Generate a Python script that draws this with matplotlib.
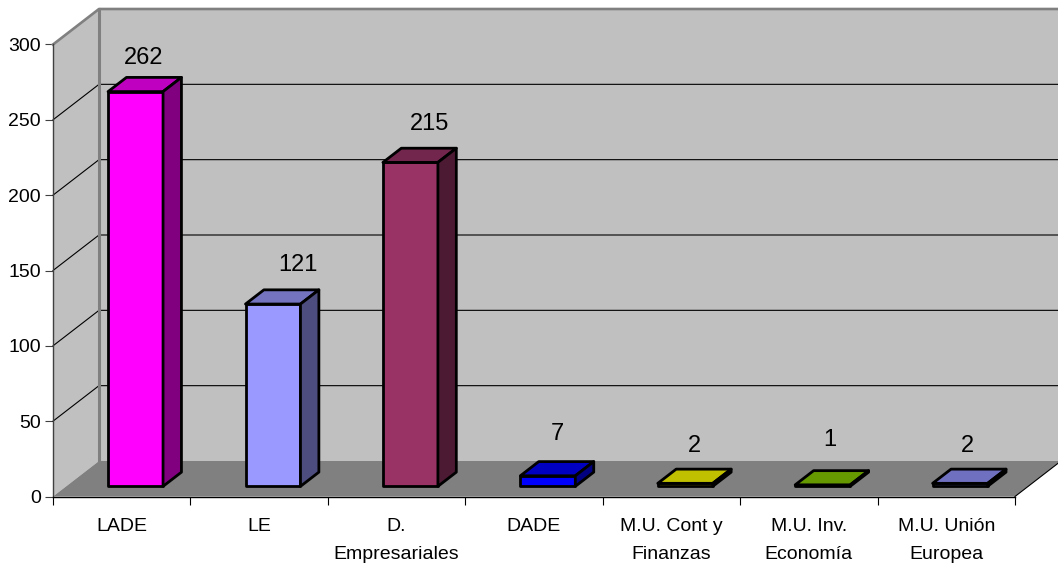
import matplotlib
matplotlib.use("Agg")
import matplotlib.pyplot as plt
from matplotlib.patches import Polygon

categories = ["LADE", "LE", "D.\nEmpresariales", "DADE", "M.U. Cont y\nFinanzas", "M.U. Inv.\nEconomía", "M.U. Unión\nEuropea"]
values = [262, 121, 215, 7, 2, 1, 2]
y_ticks = [0, 50, 100, 150, 200, 250, 300]

front_colors = ["#FF00FF", "#9999FF", "#993366", "#0000FF", "#CCCC00", "#669900", "#6666CC"]
top_colors = ["#C000C0", "#7373C0", "#73264D", "#0000C0", "#C0C000", "#669900", "#7070C0"]
side_colors = ["#800080", "#4D4D80", "#4D1A33", "#000080", "#666600", "#334D00", "#333366"]

# label nudges from the top of each bar, in pixels
label_dx = [8.5, 25, 19, 10, 9, 7, 7]
label_dy = [21, 27, 26, 30, 25, 33, 25]

plt.rcParams['font.family'] = ['Liberation Sans']

W, H = 1058, 567
X0, X1, Y0, Y1 = 53, 1015, 496.5, 44.5

fig = plt.figure(figsize=(W / 100, H / 100), dpi=100)
ax = fig.add_axes([X0 / W, (H - Y0) / H, (X1 - X0) / W, (Y0 - Y1) / H])
ax.set_xlim(0, 7)
ax.set_ylim(0, 300)

px_x = 7 / (X1 - X0)
px_y = 300 / (Y0 - Y1)
DX = 46 * px_x
DY = 35.5 * px_y
TOP = 300


def proj(x, v, d):
    return (x + d * DX, v + d * DY)


def poly(points, fc, z, ec="none", lw=0):
    ax.add_patch(Polygon(points, closed=True, facecolor=fc, edgecolor=ec, linewidth=lw,
                         joinstyle="round", clip_on=False, zorder=z))


# walls and floor
poly([proj(0, 0, 1), proj(7, 0, 1), proj(7, TOP, 1), proj(0, TOP, 1)], "#C0C0C0", 1)
poly([proj(0, 0, 0), proj(0, 0, 1), proj(0, TOP, 1), proj(0, TOP, 0)], "#C0C0C0", 1)
poly([proj(0, 0, 0), proj(7, 0, 0), proj(7, 0, 1), proj(0, 0, 1)], "#808080", 1)

for t in y_ticks[1:-1]:
    a, b, c = proj(0, t, 0), proj(0, t, 1), proj(7, t, 1)
    ax.plot([a[0], b[0], c[0]], [a[1], b[1], c[1]], color="black", lw=0.8, clip_on=False, zorder=2)

# grey frame of the back wall
a, b, c, d = proj(0, TOP, 0), proj(0, TOP, 1), proj(7, TOP, 1), proj(0, 0, 1)
ax.plot([a[0], b[0], c[0]], [a[1], b[1], c[1]], color="#808080", lw=1.9, clip_on=False, zorder=3)
ax.plot([b[0], d[0]], [b[1], d[1]], color="#808080", lw=2.2, clip_on=False, zorder=3)

# right edge of the floor
a, b = proj(7, 0, 0), proj(7, 0, 1)
ax.plot([a[0], b[0]], [a[1], b[1]], color="black", lw=0.8, clip_on=False, zorder=3)

# bars
d0, d1 = 0.286, 0.686
bw = 0.4
for i, v in enumerate(values):
    x0 = i + 0.305
    x1 = x0 + bw
    poly([proj(x0, 0, d0), proj(x1, 0, d0), proj(x1, v, d0), proj(x0, v, d0)], front_colors[i], 5, "black", 2.0)
    poly([proj(x0, v, d0), proj(x1, v, d0), proj(x1, v, d1), proj(x0, v, d1)], top_colors[i], 5, "black", 2.0)
    poly([proj(x1, 0, d0), proj(x1, 0, d1), proj(x1, v, d1), proj(x1, v, d0)], side_colors[i], 5, "black", 2.0)
    tx = proj(x0 + bw / 2, v, d0)[0]
    ty = proj(x0 + bw / 2, v, d1)[1]
    ax.text(tx + label_dx[i] * px_x, ty + label_dy[i] * px_y - 2 * px_y, str(v), ha="center", va="center",
            fontsize=17, color="black", zorder=6, clip_on=False)

for s in ["top", "right"]:
    ax.spines[s].set_visible(False)
ax.spines["left"].set_color("#404040")
ax.spines["left"].set_linewidth(1.0)
ax.spines["bottom"].set_color("black")
ax.spines["bottom"].set_linewidth(1.0)
ax.spines["left"].set_zorder(4)
ax.spines["bottom"].set_zorder(4)
ax.patch.set_visible(False)

ax.set_yticks(y_ticks)
ax.tick_params(axis="y", length=5.8, width=0.8, color="#404040", pad=3, labelsize=14)
ax.set_xticks(range(8))
ax.set_xticklabels([])
ax.tick_params(axis="x", which="major", length=5.8, width=0.8, color="black")
ax.set_xticks([i + 0.5 for i in range(7)], minor=True)
ax.set_xticklabels(categories, minor=True, fontsize=14, linespacing=1.88, va="top")
ax.tick_params(axis="x", which="minor", length=0, pad=15.5)

fig.savefig("out.png", dpi=100)
